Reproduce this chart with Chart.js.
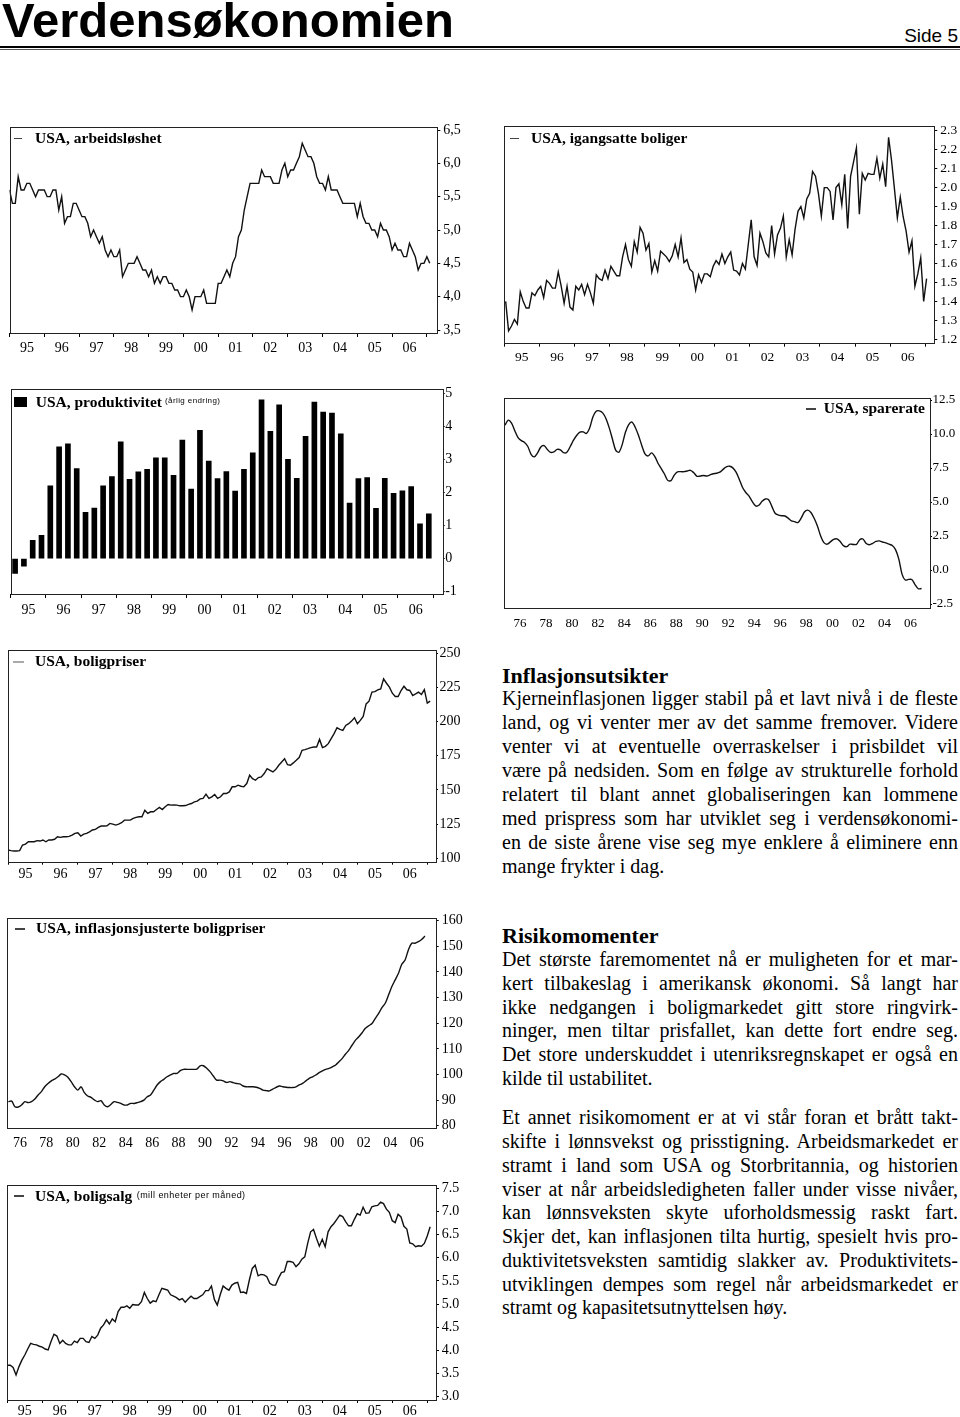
<!DOCTYPE html>
<html><head><meta charset="utf-8">
<script src="https://cdn.jsdelivr.net/npm/chart.js@4.4.0/dist/chart.umd.min.js"></script>
<style>
html,body{margin:0;padding:0;background:#fff;}
body{width:960px;height:1417px;position:relative;overflow:hidden;font-family:"Liberation Serif","Times New Roman",serif;color:#000;}
canvas{position:absolute;}
.ttl{position:absolute;font-family:"Liberation Serif",serif;font-weight:bold;font-size:15.5px;line-height:15.5px;white-space:nowrap;}
.sub{position:absolute;font-family:"Liberation Sans",Arial,sans-serif;white-space:nowrap;}
.mk{position:absolute;height:1.5px;background:#444;}
.txt{position:absolute;left:502px;width:456px;font-size:20px;}
.txt div{white-space:nowrap;text-align:justify;text-align-last:justify;}
.txt div.l{text-align:left;text-align-last:left;}
.hd{position:absolute;left:502px;font-size:22px;line-height:24px;font-weight:bold;white-space:nowrap;}
</style></head>
<body>
<div style="position:absolute;left:2px;top:-4.5px;font-family:'Liberation Sans',Arial,sans-serif;font-weight:bold;font-size:49px;line-height:49px;white-space:nowrap;">Verdensøkonomien</div>
<div style="position:absolute;right:2px;top:26px;font-family:'Liberation Sans',Arial,sans-serif;font-size:19px;line-height:19px;">Side 5</div>
<div style="position:absolute;left:0;top:46px;width:960px;height:2px;background:#000;"></div>
<div style="position:absolute;left:0;top:49px;width:960px;height:1px;background:#555;"></div>

<canvas id="c1" width="475" height="250" style="left:0;top:110px"></canvas>
<canvas id="c2" width="465" height="260" style="left:495px;top:110px"></canvas>
<canvas id="c3" width="475" height="245" style="left:0;top:380px"></canvas>
<canvas id="c4" width="465" height="250" style="left:495px;top:385px"></canvas>
<canvas id="c5" width="475" height="250" style="left:0;top:640px"></canvas>
<canvas id="c6" width="475" height="255" style="left:0;top:905px"></canvas>
<canvas id="c7" width="475" height="247" style="left:0;top:1170px"></canvas>

<div class="mk" style="left:14px;top:137.5px;width:8px;"></div>
<div class="ttl" style="left:35px;top:129.7px;">USA, arbeidsløshet</div>
<div class="mk" style="left:510px;top:137.5px;width:9px;"></div>
<div class="ttl" style="left:531px;top:129.7px;">USA, igangsatte boliger</div>
<div style="position:absolute;left:14px;top:396.5px;width:13px;height:10.5px;background:#000;"></div>
<div class="ttl" style="left:35.7px;top:393.7px;">USA, produktivitet</div>
<div class="sub" style="left:165px;top:397.2px;font-size:8px;line-height:8px;letter-spacing:0.4px;">(årlig endring)</div>
<div class="mk" style="left:806px;top:408.3px;width:10px;"></div>
<div class="ttl" style="right:35px;top:400.3px;">USA, sparerate</div>
<div class="mk" style="left:13px;top:661px;width:11px;background:#aaa;"></div>
<div class="ttl" style="left:35px;top:653.3px;">USA, boligpriser</div>
<div class="mk" style="left:15px;top:928.3px;width:10px;"></div>
<div class="ttl" style="left:36px;top:920.3px;">USA, inflasjonsjusterte boligpriser</div>
<div class="mk" style="left:14px;top:1195.3px;width:10px;"></div>
<div class="ttl" style="left:35px;top:1187.7px;">USA, boligsalg</div>
<div class="sub" style="left:136.7px;top:1191px;font-size:9px;line-height:9px;letter-spacing:0.45px;">(mill enheter per måned)</div>

<div class="hd" style="top:663.9px;">Inflasjonsutsikter</div>
<div class="txt" style="top:686.25px;line-height:24px;">
<div>Kjerneinflasjonen ligger stabil på et lavt nivå i de fleste</div>
<div>land, og vi venter mer av det samme fremover. Videre</div>
<div>venter vi at eventuelle overraskelser i prisbildet vil</div>
<div>være på nedsiden. Som en følge av strukturelle forhold</div>
<div>relatert til blant annet globaliseringen kan lommene</div>
<div>med prispress som har utviklet seg i verdensøkonomi-</div>
<div>en de siste årene vise seg mye enklere å eliminere enn</div>
<div class="l">mange frykter i dag.</div>
</div>
<div class="hd" style="top:923.9px;">Risikomomenter</div>
<div class="txt" style="top:948.1px;line-height:23.7px;">
<div>Det største faremomentet nå er muligheten for et mar-</div>
<div>kert tilbakeslag i amerikansk økonomi. Så langt har</div>
<div>ikke nedgangen i boligmarkedet gitt store ringvirk-</div>
<div>ninger, men tiltar prisfallet, kan dette fort endre seg.</div>
<div>Det store underskuddet i utenriksregnskapet er også en</div>
<div class="l">kilde til ustabilitet.</div>
</div>
<div class="txt" style="top:1106.4px;line-height:23.75px;">
<div>Et annet risikomoment er at vi står foran et brått takt-</div>
<div>skifte i lønnsvekst og prisstigning. Arbeidsmarkedet er</div>
<div>stramt i land som USA og Storbritannia, og historien</div>
<div>viser at når arbeidsledigheten faller under visse nivåer,</div>
<div>kan lønnsveksten skyte uforholdsmessig raskt fart.</div>
<div>Skjer det, kan inflasjonen tilta hurtig, spesielt hvis pro-</div>
<div>duktivitetsveksten samtidig slakker av. Produktivitets-</div>
<div>utviklingen dempes som regel når arbeidsmarkedet er</div>
<div class="l">stramt og kapasitetsutnyttelsen høy.</div>
</div>

<script>
// ---------- DATA ----------
// Monthly, Jan 1995 - Feb 2007
const unempStart = 1995.0;
const unemployment = [
5.6,5.4,5.4,5.8,5.6,5.6,5.7,5.7,5.6,5.5,5.6,5.6,
5.6,5.5,5.5,5.6,5.6,5.3,5.5,5.1,5.2,5.2,5.4,5.4,
5.3,5.2,5.2,5.1,4.9,5.0,4.9,4.8,4.9,4.7,4.6,4.7,
4.6,4.6,4.7,4.3,4.4,4.5,4.5,4.5,4.6,4.5,4.4,4.4,
4.3,4.4,4.2,4.3,4.2,4.3,4.3,4.2,4.2,4.1,4.1,4.0,
4.0,4.1,4.0,3.8,4.0,4.0,4.0,4.1,3.9,3.9,3.9,3.9,
4.2,4.2,4.3,4.4,4.3,4.5,4.6,4.9,5.0,5.3,5.5,5.7,
5.7,5.7,5.7,5.9,5.8,5.8,5.8,5.7,5.7,5.7,5.9,6.0,
5.8,5.9,5.9,6.0,6.1,6.3,6.2,6.1,6.1,6.0,5.8,5.7,
5.7,5.6,5.8,5.6,5.6,5.6,5.5,5.4,5.4,5.4,5.4,5.4,
5.2,5.4,5.2,5.1,5.1,5.0,5.0,4.9,5.1,5.0,5.0,4.9,
4.7,4.8,4.7,4.7,4.6,4.6,4.8,4.7,4.6,4.4,4.5,4.5,
4.6,4.5];

// Monthly housing starts (mill.), from Jan 1995
const startsStart = 1995.04;
const housingStarts = [
1.40,1.245,1.27,1.305,1.28,1.45,1.40,1.365,1.365,1.445,
1.43,1.46,1.48,1.42,1.51,1.495,1.47,1.47,1.555,1.48,
1.39,1.48,1.37,1.355,1.48,1.46,1.49,1.435,1.49,1.445,
1.39,1.54,1.52,1.51,1.565,1.52,1.585,1.56,1.535,1.535,
1.635,1.70,1.62,1.585,1.715,1.66,1.79,1.76,1.67,1.705,
1.555,1.615,1.56,1.665,1.65,1.635,1.61,1.64,1.70,1.635,
1.735,1.605,1.62,1.57,1.555,1.46,1.54,1.50,1.545,1.545,
1.53,1.585,1.615,1.595,1.65,1.60,1.635,1.66,1.565,1.56,
1.54,1.60,1.57,1.70,1.83,1.635,1.59,1.76,1.715,1.655,
1.635,1.80,1.65,1.75,1.785,1.85,1.635,1.725,1.645,1.78,
1.875,1.90,1.84,1.94,1.97,2.085,2.06,1.97,1.85,2.00,
2.00,1.98,1.83,2.00,2.02,1.91,2.07,1.785,2.06,2.135,
2.21,1.86,2.075,2.04,2.075,2.07,2.07,2.155,2.05,2.125,
2.005,2.265,2.145,1.995,1.84,1.95,1.845,1.77,1.66,1.72,
1.48,1.545,1.63,1.40,1.52];

// Quarterly productivity growth (% y/y), Q1 1995 - Q4 2006
const prodStart = 1995.125;
const productivity = [
-0.45,-0.23,0.55,0.70,2.20,3.38,3.47,2.72,1.40,1.53,2.20,2.48,
3.53,2.40,2.62,2.70,3.05,3.05,2.52,3.58,2.10,3.88,2.95,2.42,
2.63,2.04,2.70,3.20,4.80,3.85,4.65,3.00,2.43,3.70,4.73,4.43,
4.40,3.77,1.68,2.42,2.45,1.52,2.43,1.97,2.05,2.18,1.05,1.35];

// Quarterly saving rate (%)
const saveStart = 1974.85;
const savingRate = [
10.66,11.02,10.8,10.24,9.73,9.51,9.38,9.08,8.51,8.32,
8.61,9.05,9.14,8.86,8.65,8.69,8.87,8.84,8.63,8.66,
9.06,9.53,9.89,10.13,10.16,10.04,10.44,11.25,11.67,11.70,
11.55,11.14,10.47,9.63,8.81,8.66,9.22,10.13,10.69,10.88,
10.50,9.91,9.18,8.54,8.39,8.61,8.36,7.85,7.45,7.06,
6.59,6.57,6.98,7.22,7.23,7.23,7.28,7.33,7.15,6.89,
6.91,6.95,6.91,6.99,7.08,7.11,7.19,7.40,7.59,7.63,
7.51,7.19,6.66,6.07,5.70,5.43,5.02,4.71,4.76,5.05,
5.22,5.16,4.68,4.17,4.04,3.99,3.97,3.81,3.62,3.56,
3.49,3.81,4.26,4.40,4.23,3.80,3.23,2.50,2.01,1.90,
2.07,2.26,2.29,2.09,1.79,1.72,1.90,1.88,1.88,2.23,
2.28,1.95,1.86,1.96,2.10,2.14,2.06,1.99,1.90,1.80,
1.50,0.82,-0.30,-0.74,-0.69,-0.70,-1.07,-1.38,-1.36];

// Monthly house price index, from Jan 1995
const hpStart = 1995.0;
const housePrices = [
106.1,105.6,105.3,105.3,105.6,109.7,110.4,112.1,112.1,112.1,
112.9,112.6,113.4,112.1,113.4,113.4,113.9,115.8,115.3,115.8,
115.8,116.0,117.0,118.2,118.7,116.3,117.7,118.2,119.4,120.7,
121.1,122.6,123.6,123.6,123.8,125.5,125.0,124.3,125.0,126.0,
127.9,127.9,127.9,129.2,129.9,130.4,130.4,135.2,132.8,134.0,
134.0,135.7,137.2,135.7,137.7,139.4,138.9,139.1,138.9,138.4,
138.4,138.6,139.4,140.1,141.3,141.8,143.5,143.8,146.9,143.8,
145.0,146.7,143.8,145.0,147.4,147.4,148.6,152.3,152.3,153.5,
152.7,152.3,154.7,160.8,158.3,157.1,159.1,159.6,162.0,165.6,
164.4,163.2,165.1,168.1,170.5,172.9,168.5,168.1,169.8,171.7,
173.7,179.0,179.5,180.2,181.0,181.4,181.4,187.0,181.0,181.9,
183.9,187.5,191.2,195.5,194.3,193.6,197.2,198.5,200.4,202.8,
198.5,200.9,203.8,213.0,215.0,221.6,222.0,223.3,224.0,231.3,
228.1,225.2,220.8,218.4,218.4,222.8,225.9,223.3,222.8,219.1,
220.3,221.6,219.9,223.5,213.5,215.0];

// Quarterly real house prices, from 1975
const realStart = 1975.125;
const realHousePrices = [
89.4,89.6,87.4,87.3,88.1,89.4,89.0,89.4,90.4,92.0,
93.3,95.2,96.5,97.5,98.2,99.1,100.2,99.8,98.9,97.2,
95.2,93.9,95.2,92.9,91.6,91.1,90.1,89.4,89.8,88.1,
87.4,88.3,89.4,89.1,88.7,88.1,88.1,88.7,88.7,89.0,
89.4,90.0,91.3,92.0,93.9,95.9,97.2,98.1,99.1,99.8,
100.4,100.4,101.5,102.0,102.0,102.0,102.0,102.1,103.4,103.4,
102.4,101.1,99.4,97.8,97.8,97.5,96.9,97.2,96.8,96.5,
96.3,95.5,95.2,95.2,95.2,95.0,94.6,93.9,93.7,93.6,
94.3,95.0,95.5,95.2,95.0,94.9,94.9,95.2,95.9,96.5,
97.5,98.5,99.1,99.8,100.7,101.4,102.0,102.4,103.0,103.7,
105.0,106.3,108.0,109.5,111.5,113.4,114.7,116.3,118.0,119.0,
119.9,121.9,123.8,126.1,127.8,131.0,134.3,136.9,139.5,143.0,
144.7,148.6,151.2,151.2,151.8,152.7,154.0];

// Monthly home sales (mill. units, annualised), from Jan 1995
const salesStart = 1995.0;
const homeSales = [
3.68,3.68,3.63,3.47,3.65,3.79,3.90,4.03,4.15,4.13,
4.12,4.09,4.07,4.03,4.01,4.19,4.35,4.31,4.15,4.22,
4.15,4.12,4.12,4.20,4.17,4.26,4.26,4.19,4.17,4.30,
4.26,4.33,4.48,4.55,4.66,4.57,4.68,4.62,4.84,4.93,
4.93,4.96,4.91,4.99,4.98,4.98,5.05,5.25,5.12,5.02,
5.07,5.05,5.20,5.34,5.32,5.30,5.20,5.17,5.14,5.09,
5.12,5.04,5.11,5.17,5.12,5.12,5.16,5.20,5.29,5.29,
5.39,5.10,4.98,5.20,5.39,5.34,5.30,5.41,5.45,5.47,
5.25,5.26,5.23,5.52,5.77,5.84,5.61,5.64,5.63,5.59,
5.45,5.41,5.41,5.56,5.68,5.70,5.92,5.92,5.90,5.81,
5.87,5.97,6.02,6.31,6.56,6.61,6.42,6.25,6.40,6.24,
6.56,6.67,6.74,6.83,6.92,6.89,6.78,6.69,6.69,6.83,
6.95,6.92,7.09,6.96,6.97,7.10,7.12,7.13,7.20,7.17,7.05,6.98,
6.80,6.76,6.94,6.88,6.68,6.62,6.32,6.30,6.24,6.26,6.25,6.31,
6.47,6.67];

// Tick values and labels
const yearTicks95 = [1995,1996,1997,1998,1999,2000,2001,2002,2003,2004,2005,2006,2007];
const yearLabels95 = ['95','96','97','98','99','00','01','02','03','04','05','06',''];
const yearTicks76 = [1976,1978,1980,1982,1984,1986,1988,1990,1992,1994,1996,1998,2000,2002,2004,2006];
const yearLabels76 = ['76','78','80','82','84','86','88','90','92','94','96','98','00','02','04','06'];
const unempTicks = [3.5,4.0,4.5,5.0,5.5,6.0,6.5];
const unempLabels = ['3,5','4,0','4,5','5,0','5,5','6,0','6,5'];
const startsTicks = [1.2,1.3,1.4,1.5,1.6,1.7,1.8,1.9,2.0,2.1,2.2,2.3];
const startsLabels = ['1.2','1.3','1.4','1.5','1.6','1.7','1.8','1.9','2.0','2.1','2.2','2.3'];
const prodTicks = [-1,0,1,2,3,4,5];
const prodLabels = ['-1','0','1','2','3','4','5'];
const saveTicks = [-2.5,0,2.5,5,7.5,10,12.5];
const saveLabels = ['-2.5','0.0','2.5','5.0','7.5','10.0','12.5'];
const hpTicks = [100,125,150,175,200,225,250];
const hpLabels = ['100','125','150','175','200','225','250'];
const realTicks = [80,90,100,110,120,130,140,150,160];
const realLabels = ['80','90','100','110','120','130','140','150','160'];
const salesTicks = [3.0,3.5,4.0,4.5,5.0,5.5,6.0,6.5,7.0,7.5];
const salesLabels = ['3.0','3.5','4.0','4.5','5.0','5.5','6.0','6.5','7.0','7.5'];

// ---------- CHARTS ----------
const boxPlugin = {
  id: 'box',
  afterDraw(chart) {
    const {ctx, chartArea: a} = chart;
    ctx.save();
    ctx.strokeStyle = '#222';
    ctx.lineWidth = 1;
    ctx.strokeRect(Math.round(a.left) + 0.5, Math.round(a.top) + 0.5,
                   Math.round(a.right) - Math.round(a.left), Math.round(a.bottom) - Math.round(a.top));
    ctx.restore();
  }
};

function series(values, start, step) {
  return values.map((v, i) => ({x: start + i * step, y: v}));
}
function lineDs(values, start, step, tension) {
  return {data: series(values, start, step), borderColor: '#111', borderWidth: 1.4,
          pointRadius: 0, fill: false, tension: tension || 0};
}

function makeChart(id, o) {
  const font = {family: "'Liberation Serif', 'Times New Roman', serif", size: o.fs || 14};
  return new Chart(document.getElementById(id), {
    type: o.type || 'line',
    data: {datasets: o.datasets},
    options: {
      responsive: false, animation: false, devicePixelRatio: 1,
      layout: {padding: {left: o.padL, top: o.padT, right: 0, bottom: 0}},
      plugins: {legend: {display: false}, tooltip: {enabled: false}},
      scales: {
        x: {
          type: 'linear', position: 'bottom', min: o.xMin, max: o.xMax, offset: false,
          afterBuildTicks: s => { s.ticks = o.xTicks.map(v => ({value: v})); },
          afterFit: s => { s.height = o.xH; },
          ticks: {callback: (v, i) => o.xLabels[i], labelOffset: o.xLabelOffset || 0,
                  padding: o.xPad, maxRotation: 0, autoSkip: false, font: font, color: '#000'},
          grid: {display: true, offset: false, drawOnChartArea: false, drawTicks: o.xTickLen > 0,
                 tickLength: o.xTickLen, tickColor: '#000', tickWidth: 1},
          border: {display: false}
        },
        y: {
          type: 'linear', position: 'right', min: o.yMin, max: o.yMax,
          afterBuildTicks: s => { s.ticks = o.yTicks.map(v => ({value: v})); },
          afterFit: s => { s.width = o.yW; },
          ticks: {callback: (v, i) => o.yLabels[i], padding: o.yPad, autoSkip: false, font: font, color: '#000'},
          grid: {display: true, drawOnChartArea: false, tickLength: o.yTickLen, tickColor: '#000', tickWidth: 1},
          border: {display: false}
        }
      }
    },
    plugins: [boxPlugin]
  });
}

const M = 1 / 12, Q = 0.25;

makeChart('c1', {
  datasets: [lineDs(unemployment, unempStart, M)],
  padL: 8.5, padT: 17, yW: 37.7, xH: 27,
  xMin: 1995, xMax: 2007.3, xTicks: yearTicks95, xLabels: yearLabels95, xLabelOffset: 17.4,
  xTickLen: 4, xPad: 2.5,
  yMin: 3.455, yMax: 6.545, yTicks: unempTicks, yLabels: unempLabels, yTickLen: 3, yPad: 3
});

makeChart('c2', {
  datasets: [lineDs(housingStarts, startsStart, M)],
  padL: 8.3, padT: 16, yW: 25.7, xH: 27.3,
  xMin: 1995, xMax: 2007.26, xTicks: yearTicks95, xLabels: yearLabels95, xLabelOffset: 17.6,
  xTickLen: 4, xPad: 2.5,
  yMin: 1.182, yMax: 2.325, yTicks: startsTicks, yLabels: startsLabels, yTickLen: 3, yPad: 3, fs: 13.5
});

makeChart('c3', {
  type: 'bar',
  datasets: [{data: series(productivity, prodStart, Q), backgroundColor: '#000', borderWidth: 0, barThickness: 5}],
  padL: 8.5, padT: 7.3, yW: 32.3, xH: 31,
  xMin: 1995, xMax: 2007.27, xTicks: yearTicks95, xLabels: yearLabels95, xLabelOffset: 17.7,
  xTickLen: 4, xPad: 3.7,
  yMin: -1.07, yMax: 5.13, yTicks: prodTicks, yLabels: prodLabels, yTickLen: 2, yPad: 0.5
});

makeChart('c4', {
  datasets: [lineDs(savingRate, saveStart, Q, 0.3)],
  padL: 9, padT: 13.3, yW: 30, xH: 26.7,
  xMin: 1974.77, xMax: 2007.5, xTicks: yearTicks76, xLabels: yearLabels76,
  xTickLen: 0, xPad: 7,
  yMin: -2.816, yMax: 12.625, yTicks: saveTicks, yLabels: saveLabels, yTickLen: 2, yPad: 0.5, fs: 13
});

makeChart('c5', {
  datasets: [lineDs(housePrices, hpStart, M)],
  padL: 6.7, padT: 9.3, yW: 39, xH: 28.3,
  xMin: 1995, xMax: 2007.25, xTicks: yearTicks95, xLabels: yearLabels95, xLabelOffset: 17.5,
  xTickLen: 3, xPad: 1,
  yMin: 97.5, yMax: 252.5, yTicks: hpTicks, yLabels: hpLabels, yTickLen: 2, yPad: 1.5
});

makeChart('c6', {
  datasets: [lineDs(realHousePrices, realStart, Q, 0.3)],
  padL: 6.7, padT: 13.3, yW: 39.3, xH: 31.7,
  xMin: 1975, xMax: 2007.44, xTicks: yearTicks76, xLabels: yearLabels76,
  xTickLen: 0, xPad: 6.5,
  yMin: 79, yMax: 160.94, yTicks: realTicks, yLabels: realLabels, yTickLen: 3, yPad: 3
});

makeChart('c7', {
  datasets: [lineDs(homeSales, salesStart, M)],
  padL: 6, padT: 15, yW: 39, xH: 17,
  xMin: 1995, xMax: 2007.25, xTicks: yearTicks95, xLabels: yearLabels95, xLabelOffset: 17.5,
  xTickLen: 3, xPad: 0.3,
  yMin: 2.929, yMax: 7.571, yTicks: salesTicks, yLabels: salesLabels, yTickLen: 3, yPad: 2.7
});
</script>
</body></html>
